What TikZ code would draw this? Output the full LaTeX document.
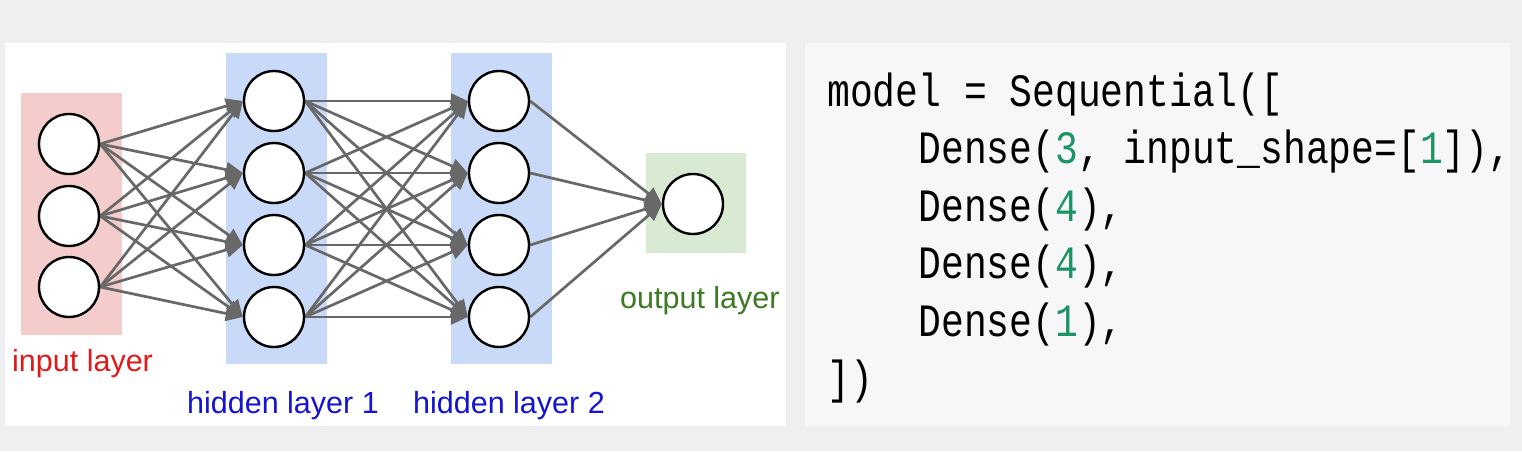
\documentclass[tikz,border=0pt]{standalone}
\usepackage{fontspec}
\usepackage{graphicx}
\setmainfont{Liberation Sans}
\newfontfamily\codefont{Liberation Mono}
\usetikzlibrary{arrows.meta}
\pgfdeclarelayer{boxlayer}
\pgfdeclarelayer{edgelayer}
\pgfsetlayers{boxlayer,edgelayer,main}
\definecolor{bgout}{HTML}{EFEFF1}
\definecolor{codebg}{HTML}{F7F7F9}
\definecolor{inbox}{HTML}{F4CCCC}
\definecolor{hidbox}{HTML}{C9DAF8}
\definecolor{outbox}{HTML}{D9EAD3}
\definecolor{inred}{HTML}{E01A1A}
\definecolor{hidblue}{HTML}{1414D2}
\definecolor{outgreen}{HTML}{3C7A22}
\definecolor{numgreen}{HTML}{1E9466}
\definecolor{edgegray}{HTML}{686868}
\tikzset{
  neuron/.style={circle, draw=black, line width=2.4pt, fill=white, minimum size=60pt, inner sep=0pt},
  edge/.style={draw=edgegray, line width=2.7pt, -{Triangle[length=17pt,width=15pt]}},
  lbl/.style={font=\fontsize{30.5}{32}\selectfont, anchor=base west, inner sep=0pt},
  codeline/.style={font=\codefont\fontsize{38}{40}\selectfont, anchor=base west, inner sep=0pt, text=black},
}
\newcommand{\cg}[1]{\textcolor{numgreen}{#1}}
\begin{document}
\begin{tikzpicture}[x=1pt,y=-1pt]
\useasboundingbox (0,0) rectangle (1522,451);
\begin{pgfonlayer}{boxlayer}
\fill[bgout] (0,0) rectangle (1522,451);
\fill[white] (5,43) rectangle (786,426);
\fill[codebg] (805,43) rectangle (1510,426);
\fill[inbox] (21,93) rectangle (122,335);
\fill[hidbox] (226,53) rectangle (327,364);
\fill[hidbox] (451,53) rectangle (552,364);
\fill[outbox] (646,153) rectangle (746,253);
\end{pgfonlayer}
% neurons
\node[neuron] (i1) at (69,144) {};
\node[neuron] (i2) at (69,216) {};
\node[neuron] (i3) at (69,287) {};
\node[neuron] (a1) at (274,101) {};
\node[neuron] (a2) at (274,173) {};
\node[neuron] (a3) at (274,245) {};
\node[neuron] (a4) at (274,317) {};
\node[neuron] (b1) at (499,101) {};
\node[neuron] (b2) at (499,173) {};
\node[neuron] (b3) at (499,245) {};
\node[neuron] (b4) at (499,317) {};
\node[neuron] (o1) at (693,204) {};
% edges
\begin{pgfonlayer}{edgelayer}
\foreach \s in {i1,i2,i3}{\foreach \t in {a1,a2,a3,a4}{\draw[edge] (\s.east) -- (\t.west);}}
\foreach \s in {a1,a2,a3,a4}{\foreach \t in {b1,b2,b3,b4}{\draw[edge] (\s.east) -- (\t.west);}}
\foreach \s in {b1,b2,b3,b4}{\draw[edge] (\s.east) -- (o1.west);}
\end{pgfonlayer}
% labels
\node[lbl, text=inred] (linput) at (12,371) {input layer};
\node[lbl, text=hidblue] (lh1) at (187,413) {hidden layer 1};
\node[lbl, text=hidblue] (lh2) at (413,413) {hidden layer 2};
\node[lbl, text=outgreen] (lout) at (620,308) {output layer};
% code
\node[codeline] (c1) at (827,106) {\scalebox{1}[1.22]{model = Sequential([}};
\node[codeline] (c2) at (827,163.5) {\scalebox{1}[1.22]{\ \ \ \ Dense(\cg{3}, input\_shape=[\cg{1}]),}};
\node[codeline] (c3) at (827,221) {\scalebox{1}[1.22]{\ \ \ \ Dense(\cg{4}),}};
\node[codeline] (c4) at (827,278.5) {\scalebox{1}[1.22]{\ \ \ \ Dense(\cg{4}),}};
\node[codeline] (c5) at (827,336) {\scalebox{1}[1.22]{\ \ \ \ Dense(\cg{1}),}};
\node[codeline] (c6) at (827,393.5) {\scalebox{1}[1.22]{])}};
\end{tikzpicture}
\end{document}
